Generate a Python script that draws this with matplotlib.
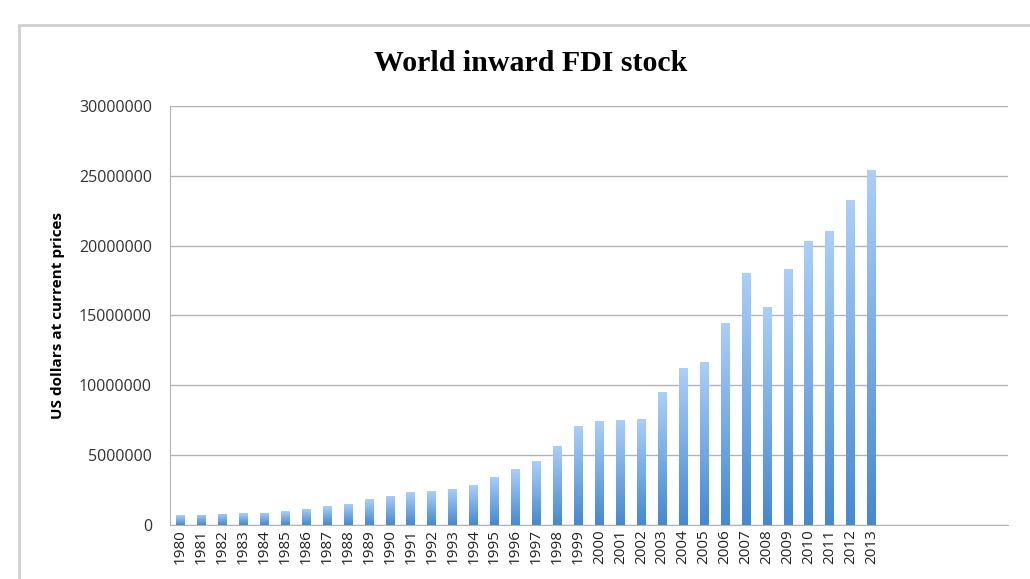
import numpy as np
import matplotlib.pyplot as plt
from matplotlib.colors import LinearSegmentedColormap
from matplotlib.patches import Rectangle

# World inward FDI stock, US dollars (millions) at current prices
years = [str(y) for y in range(1980, 2014)]
fdi_stock = [710000, 750000, 790000, 830000, 860000, 980000, 1150000, 1330000,
             1530000, 1840000, 2080000, 2340000, 2430000, 2600000, 2860000,
             3450000, 4000000, 4550000, 5690000, 7070000, 7450000, 7550000,
             7590000, 9500000, 11240000, 11690000, 14430000, 18050000,
             15620000, 18360000, 20310000, 21050000, 23240000, 25380000]
# the category axis keeps room for six more (unlabelled) years
n_slots = 40
tick_labels = years + [''] * (n_slots - len(years))

fig = plt.figure(figsize=(10.3, 5.79), dpi=100)
ax = fig.add_axes([0.165, 0.0933, 0.8135, 0.7237])

# outer chart frame
fig.patches.append(Rectangle((19 / 1030, -0.1), 1.2, 1 - 25 / 579 + 0.1,
                             transform=fig.transFigure, fill=False,
                             edgecolor='#cfcfcf', linewidth=2))

x = np.arange(n_slots)
cmap = LinearSegmentedColormap.from_list('bar_grad', ['#4489d2', '#abcff9'])
grad = np.linspace(0, 1, 256).reshape(-1, 1)
bars = ax.bar(x[:len(years)], fdi_stock, width=0.42, color='none', edgecolor='none', zorder=3)
for bar in bars:
    x0, h = bar.get_x(), bar.get_height()
    w = bar.get_width()
    img = ax.imshow(grad, cmap=cmap, origin='lower', aspect='auto',
                    extent=[x0, x0 + w, 0, h], zorder=3)
    img.set_clip_path(bar)

ax.set_xlim(-0.5, n_slots - 0.5)
ax.set_ylim(0, 30000000)
ax.set_yticks(np.arange(0, 30000001, 5000000))
ax.set_yticklabels([str(v) for v in range(0, 30000001, 5000000)],
                   fontsize=11.5, family='Open Sans', color='#333333')
ax.set_xticks(x)
ax.set_xticklabels(tick_labels, rotation=90, fontsize=11, family='Open Sans',
                   color='#222222')
ax.tick_params(axis='y', length=0, pad=13)
ax.tick_params(axis='x', length=0, pad=3)

ax.grid(axis='y', color='#b3b3b3', linewidth=1, zorder=0)
for side in ['top', 'right']:
    ax.spines[side].set_visible(False)
ax.spines['left'].set_color('#b3b3b3')
ax.spines['bottom'].set_color('#b3b3b3')

ax.set_ylabel('US dollars at current prices', fontsize=11, fontweight='bold',
              family='Open Sans', labelpad=10)
fig.text(0.515, 0.89, 'World inward FDI stock', ha='center', va='center',
         fontsize=21.5, fontweight='bold', family='Liberation Serif')

plt.savefig('out.png', dpi=100)
